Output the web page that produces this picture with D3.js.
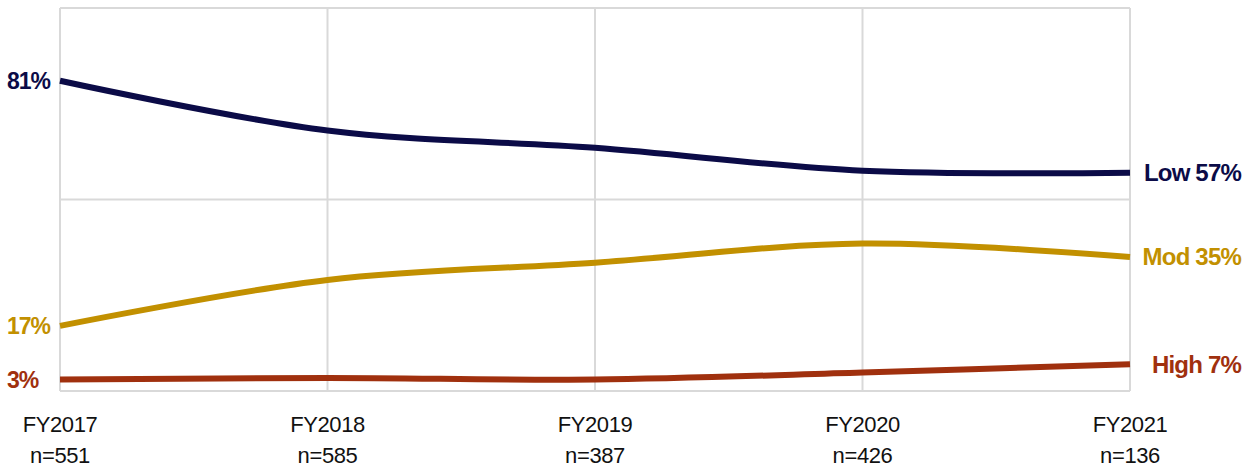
<!DOCTYPE html>
<html>
<head>
<meta charset="utf-8">
<script src="https://cdn.jsdelivr.net/npm/d3@7"></script>
<style>
  html, body { margin: 0; padding: 0; background: #fff; }
  svg { display: block; }
</style>
</head>
<body>
<svg id="chart" width="1260" height="470"></svg>
<script>
// Fiscal years and sample sizes shown on the category axis
const years = ["FY2017", "FY2018", "FY2019", "FY2020", "FY2021"];
const sampleSizes = ["n=551", "n=585", "n=387", "n=426", "n=136"];

// Share of cases by risk level (%)
const lowValues  = [81, 68, 63.5, 57.5, 57];
const modValues  = [17, 29, 33.5, 38.5, 35];
const highValues = [3, 3.4, 3, 4.8, 7];

const seriesNames  = ["Low", "Mod", "High"];
const seriesColors = ["#0b0b47", "#c29000", "#a0300e"];

const yTicks = [0, 50, 100];

const series = [lowValues, modValues, highValues].map((values, i) => ({
  name: seriesNames[i],
  color: seriesColors[i],
  values: values
}));

const svg = d3.select("#chart");
const plot = { left: 60, right: 1130, top: 8, bottom: 391 };

const x = d3.scalePoint().domain(years).range([plot.left, plot.right]);
const y = d3.scaleLinear().domain([0, 100]).range([plot.bottom, plot.top]);

const gridColor = "#d9d9d9";

// Vertical gridlines at each fiscal year
svg.append("g")
  .selectAll("line")
  .data(years)
  .join("line")
  .attr("x1", d => x(d)).attr("x2", d => x(d))
  .attr("y1", y(0)).attr("y2", y(100))
  .attr("stroke", gridColor).attr("stroke-width", 2);

// Horizontal gridlines
svg.append("g")
  .selectAll("line")
  .data(yTicks)
  .join("line")
  .attr("x1", plot.left).attr("x2", plot.right)
  .attr("y1", d => y(d)).attr("y2", d => y(d))
  .attr("stroke", gridColor).attr("stroke-width", 2);

// Smoothed series lines
const line = d3.line()
  .x((d, i) => x(years[i]))
  .y(d => y(d))
  .curve(d3.curveCatmullRom.alpha(0.5));

svg.append("g")
  .selectAll("path")
  .data(series)
  .join("path")
  .attr("d", d => line(d.values))
  .attr("fill", "none")
  .attr("stroke", d => d.color)
  .attr("stroke-width", 6)
  .attr("stroke-linecap", "butt");

const labelFont = "'Liberation Sans', Arial, sans-serif";

// Starting values on the left
svg.append("g")
  .selectAll("text")
  .data(series)
  .join("text")
  .attr("x", 7)
  .attr("y", d => y(d.values[0]))
  .attr("dominant-baseline", "central")
  .attr("font-family", labelFont)
  .attr("font-weight", "bold")
  .attr("font-size", 23)
  .attr("letter-spacing", -1)
  .attr("fill", d => d.color)
  .text(d => d.values[0] + "%");

// Series names and final values on the right
svg.append("g")
  .selectAll("text")
  .data(series)
  .join("text")
  .attr("x", 1241)
  .attr("y", d => y(d.values[d.values.length - 1]))
  .attr("text-anchor", "end")
  .attr("dominant-baseline", "central")
  .attr("font-family", labelFont)
  .attr("font-weight", "bold")
  .attr("font-size", 24)
  .attr("letter-spacing", -0.8)
  .attr("fill", d => d.color)
  .text(d => d.name + " " + d.values[d.values.length - 1] + "%");

// Category axis labels
const axis = svg.append("g")
  .selectAll("g")
  .data(years)
  .join("g")
  .attr("transform", d => `translate(${x(d)},0)`);

axis.append("text")
  .attr("y", 432)
  .attr("text-anchor", "middle")
  .attr("font-family", labelFont)
  .attr("font-size", 22)
  .attr("letter-spacing", -0.4)
  .attr("fill", "#111")
  .text(d => d);

axis.append("text")
  .attr("y", 463)
  .attr("text-anchor", "middle")
  .attr("font-family", labelFont)
  .attr("font-size", 22)
  .attr("letter-spacing", -0.4)
  .attr("fill", "#111")
  .text((d, i) => sampleSizes[i]);
</script>
</body>
</html>
